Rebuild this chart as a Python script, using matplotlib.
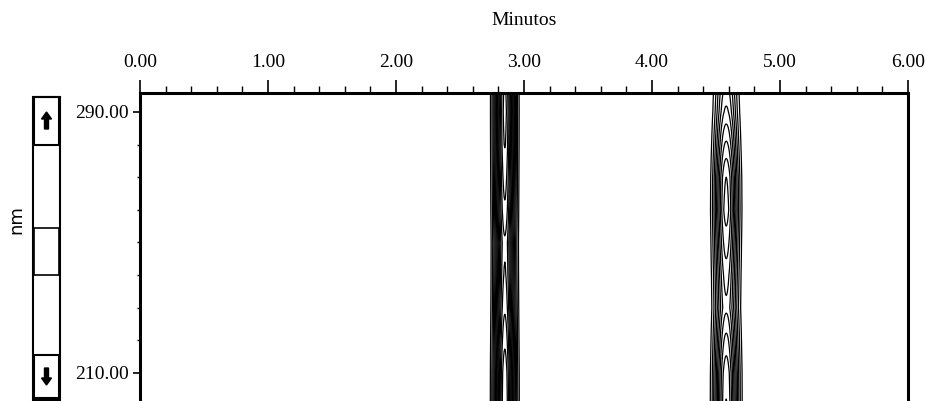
import numpy as np
import matplotlib
matplotlib.use("Agg")
import matplotlib.pyplot as plt
from matplotlib.patches import Rectangle, Polygon
from matplotlib.ticker import MultipleLocator

# ---- data ----
wl_nodes = [200, 210, 220, 230, 240, 250, 260, 270, 280, 290, 300]
peak1_rt = 2.85
peak1_sigma = 0.042
peak1_spec = [1.50, 1.45, 1.30, 1.15, 1.05, 1.00, 1.15, 1.25, 1.35, 1.40, 1.35]
peak2_rt = 4.58
peak2_sigma = 0.05
peak2_spec = [0.90, 0.85, 0.68, 0.50, 0.58, 0.70, 0.82, 0.76, 0.55, 0.36, 0.25]
levels = [0.04, 0.08, 0.13, 0.19, 0.26, 0.34, 0.43, 0.53, 0.64, 0.76, 0.89,
          1.03, 1.18, 1.34]
xticks = [0, 1, 2, 3, 4, 5, 6]
xticklabels = ["0.00", "1.00", "2.00", "3.00", "4.00", "5.00", "6.00"]
yticks = [210, 290]
yticklabels = ["210.00", "290.00"]

# ---- field ----
t = np.linspace(0, 6, 1201)
wl = np.linspace(198, 300, 205)
T, W = np.meshgrid(t, wl)
a1 = np.interp(wl, wl_nodes, peak1_spec)[:, None]
a2 = np.interp(wl, wl_nodes, peak2_spec)[:, None]
Z = a1 * np.exp(-0.5 * ((T - peak1_rt) / peak1_sigma) ** 2) + \
    a2 * np.exp(-0.5 * ((T - peak2_rt) / peak2_sigma) ** 2)

fig = plt.figure(figsize=(9.25, 4.01), dpi=100)
ax = fig.add_axes([140 / 925, 0.0, (908 - 140) / 925, 1 - 93 / 401])
ax.contour(T, W, Z, levels=levels, colors="black", linewidths=0.9)

ax.set_xlim(0, 6)
ax.set_ylim(201.4, 295.8)

fontprops = dict(family="Liberation Serif")
ax.xaxis.tick_top()
ax.xaxis.set_label_position("top")
ax.set_xticks(xticks)
ax.set_xticklabels(xticklabels, fontsize=14, **fontprops)
ax.xaxis.set_minor_locator(MultipleLocator(0.2))
ax.set_yticks(yticks)
ax.set_yticklabels(yticklabels, fontsize=14, **fontprops)
ax.yaxis.set_minor_locator(MultipleLocator(10))
ax.tick_params(axis="x", which="major", direction="out", length=9.5, width=1.2, pad=6)
ax.tick_params(axis="x", which="minor", direction="out", length=5, width=1.0)
ax.tick_params(axis="y", which="major", direction="out", length=5, width=1.2, pad=3)
ax.tick_params(axis="y", which="minor", direction="out", length=2.5, width=1.0)
ax.set_xlabel("Minutos", fontsize=14, labelpad=21, **fontprops)

for s in ["top", "left", "right"]:
    ax.spines[s].set_linewidth(2.2)
ax.spines["bottom"].set_visible(False)

# nm label
fig.text(16 / 925, 1 - 220 / 401, "nm", rotation=90, ha="center", va="center",
         fontsize=13, family="DejaVu Sans")

# scrollbar widget
def frect(x0, y0, x1, y1, lw=1.2):
    fig.patches.append(Rectangle((x0 / 925, 1 - y1 / 401), (x1 - x0) / 925,
                                 (y1 - y0) / 401, transform=fig.transFigure,
                                 fill=False, edgecolor="black", linewidth=lw))

frect(33, 97, 60, 400, lw=1.5)
frect(34, 97, 59, 145, lw=1.5)
frect(34, 228, 59, 275, lw=1.2)
frect(34, 355, 59, 398, lw=1.5)

def farrow(cx, cy, up=True):
    s = 1 if up else -1
    pts = [(cx, cy - s * 9), (cx - 5, cy - s * 2), (cx - 2, cy - s * 2),
           (cx - 2, cy + s * 8), (cx + 2, cy + s * 8), (cx + 2, cy - s * 2),
           (cx + 5, cy - s * 2)]
    pts = [(x / 925, 1 - y / 401) for x, y in pts]
    fig.patches.append(Polygon(pts, closed=True, transform=fig.transFigure,
                               facecolor="black", edgecolor="black"))

farrow(46.5, 121, up=True)
farrow(46.5, 376, up=False)

fig.savefig("out.png", dpi=100)
